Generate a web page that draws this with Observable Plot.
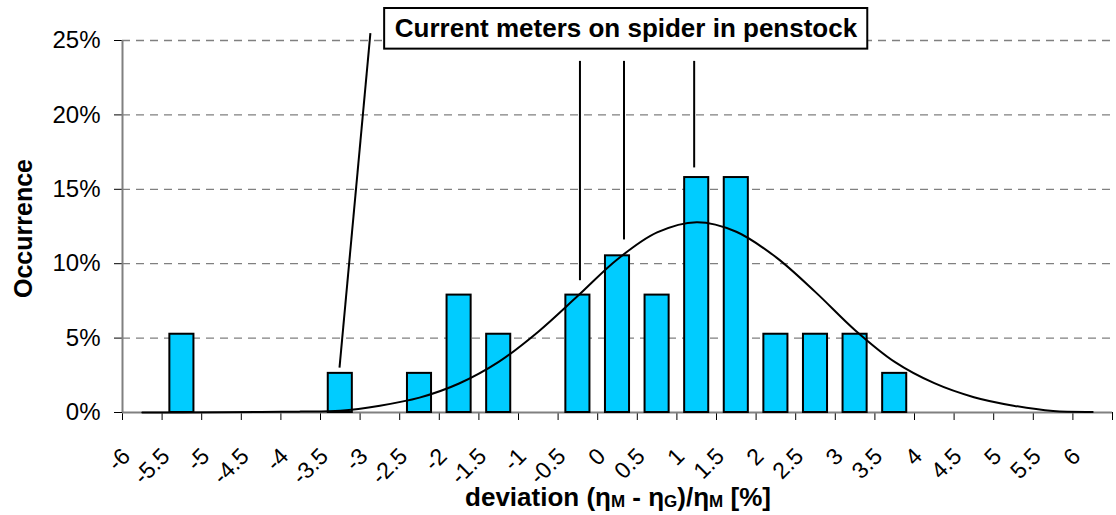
<!DOCTYPE html>
<html><head><meta charset="utf-8">
<script src="https://cdn.jsdelivr.net/npm/d3@7"></script>
<script src="https://cdn.jsdelivr.net/npm/@observablehq/plot@0.6"></script>
<style>
body{margin:0;background:#fff;font-family:"Liberation Sans",Arial,sans-serif;}
#wrap{position:relative;width:1116px;height:515px;overflow:hidden;}
#chart svg{display:block;overflow:visible;}
#xtitle{position:absolute;left:618px;top:479px;transform:translateX(-50%);white-space:nowrap;font-weight:bold;font-size:26px;line-height:37px;color:#000;}
#xtitle .s{font-size:17px;position:relative;top:1px;}
</style></head><body>
<div id="wrap"><div id="chart"></div><div id="xtitle">deviation (η<span class="s">M</span> - η<span class="s">G</span>)/η<span class="s">M</span> [%]</div></div>
<script>
// categories (deviation, %)
const categories = [-6, -5.5, -5, -4.5, -4, -3.5, -3, -2.5, -2, -1.5, -1, -0.5, 0, 0.5, 1, 1.5, 2, 2.5, 3, 3.5, 4, 4.5, 5, 5.5, 6];
// occurrence of each deviation class (%)
const occurrence = [0, 5.26, 0, 0, 0, 2.63, 0, 2.63, 7.89, 5.26, 0, 7.89, 10.53, 7.89, 15.79, 15.79, 5.26, 5.26, 5.26, 2.63, 0, 0, 0, 0, 0];
// fitted normal distribution (%)
const normalFit = [0, 0, 0.01, 0.03, 0.06, 0.12, 0.46, 1.0, 1.95, 3.40, 5.43, 7.84, 10.30, 12.10, 12.79, 12.15, 10.44, 8.09, 5.53, 3.40, 1.97, 1.03, 0.46, 0.10, 0.04];
const yTicks = [0, 5, 10, 15, 20, 25];

// annotation
const annotationText = "Current meters on spider in penstock";
const annotationX = [0.107];
const annotationY = [25.79];
const boxX1 = [-2.94], boxX2 = [3.16], boxY1 = [24.42], boxY2 = [27.15];
const leaderTopX = [-3.12, -0.474, 0.082, 0.968];
const leaderTopY = [25.49, 23.63, 23.63, 23.63];
const leaderEndX = [-3.51, -0.474, 0.082, 0.968];
const leaderEndY = [3.02, 8.89, 11.63, 16.47];

const halfStep = 0.25, barHalf = 0.152;
const bars = categories.map((c, i) => ({c, v: occurrence[i]})).filter(d => d.v > 0);
const fit = categories.map((c, i) => ({c, v: normalFit[i]}));
const edges = categories.map(c => c - halfStep).concat([categories[categories.length - 1] + halfStep]);
const idx = leaderTopX.map((_, i) => i);

const chart = Plot.plot({
  width: 1116, height: 478,
  marginLeft: 122, marginRight: 4, marginTop: 40, marginBottom: 66,
  x: {type: "linear", domain: [edges[0], edges[edges.length - 1]]},
  y: {domain: [0, 25]},
  style: {fontFamily: "'Liberation Sans', Arial, sans-serif", background: "#fff", color: "#000", overflow: "visible"},
  marks: [
    Plot.gridY(yTicks.filter(t => t > 0), {stroke: "#808080", strokeOpacity: 1, strokeDasharray: "8,6", strokeWidth: 1.3}),
    Plot.axisY(yTicks, {tickSize: 8, tickPadding: 14, tickFormat: d => d + "%", fontSize: 24, label: null, stroke: "#000"}),
    Plot.axisX(edges, {tickSize: 8, tickFormat: () => "", label: null, stroke: "#000"}),
    Plot.ruleY([0], {stroke: "#808080", strokeWidth: 2}),
    Plot.ruleX([edges[0]], {stroke: "#808080", strokeWidth: 2}),
    Plot.text(categories, {x: d => d, y: () => 0, text: d => String(d), rotate: -45, textAnchor: "end", dx: -16, dy: 40, fontSize: 23}),
    Plot.rect(bars, {x1: d => d.c - barHalf, x2: d => d.c + barHalf, y1: 0, y2: "v", fill: "#00CCFF", stroke: "#000", strokeWidth: 2}),
    Plot.line(fit, {x: "c", y: "v", stroke: "#000", strokeWidth: 2, curve: "catmull-rom"}),
    Plot.link(idx, {x1: i => leaderTopX[i], y1: i => leaderTopY[i], x2: i => leaderEndX[i], y2: i => leaderEndY[i], stroke: "#000", strokeWidth: 2}),
    Plot.rect([0], {x1: i => boxX1[i], x2: i => boxX2[i], y1: i => boxY1[i], y2: i => boxY2[i], fill: "#fff", stroke: "#000", strokeWidth: 2}),
    Plot.text([annotationText], {x: () => annotationX[0], y: () => annotationY[0], text: d => d, fontWeight: "bold", fontSize: 26}),
    Plot.text(["Occurrence"], {frameAnchor: "left", text: d => d, textAnchor: "middle", dx: -99, dy: 2, rotate: -90, fontWeight: "bold", fontSize: 25})
  ]
});
document.getElementById("chart").appendChild(chart);
</script>
</body></html>
